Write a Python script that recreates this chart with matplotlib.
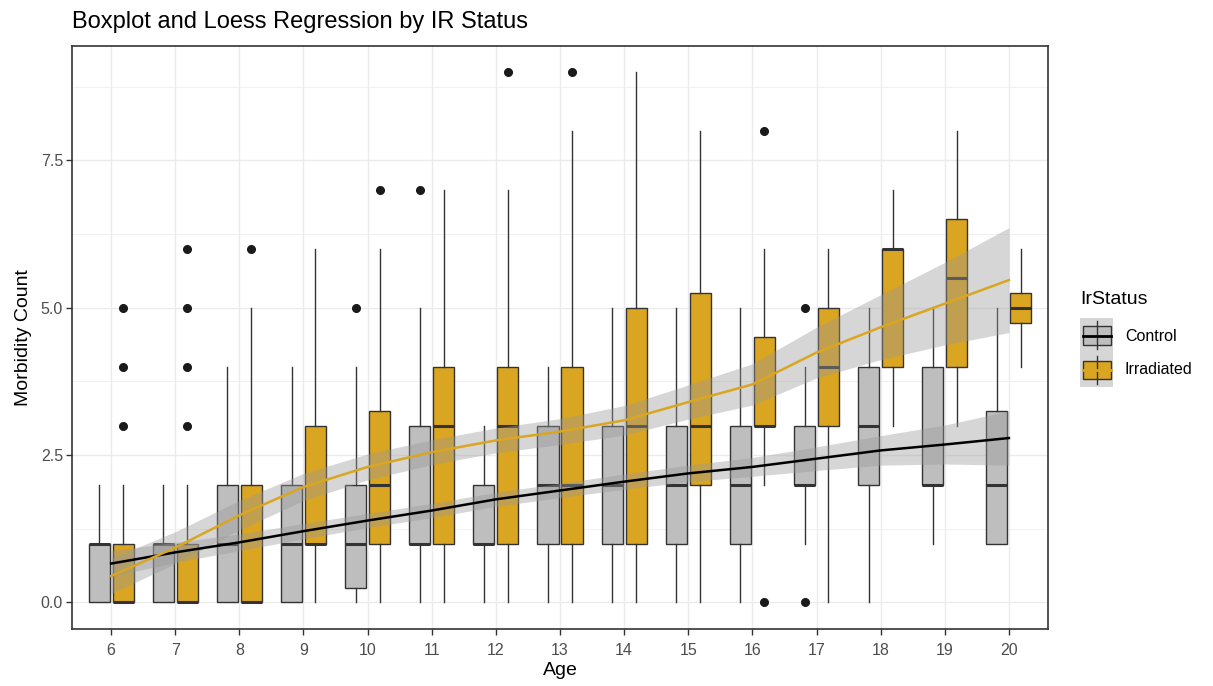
#!/usr/bin/env python3
"""
Boxplot dan regresi loess per status iradiasi
"""

import numpy as np
import matplotlib
matplotlib.use('Agg')
import matplotlib.pyplot as plt

plt.rcParams['font.family'] = ['Liberation Sans', 'DejaVu Sans']

ages = list(range(6, 21))

# Control: kuartil, median, ujung whisker, outlier
ctrl_q1 = [0, 0, 0, 0, 0.25, 1, 1, 1, 1, 1, 1, 2, 2, 2, 1]
ctrl_med = [1, 1, 1, 1, 1, 1, 1, 2, 2, 2, 2, 2, 3, 2, 2]
ctrl_q3 = [1, 1, 2, 2, 2, 3, 2, 3, 3, 3, 3, 3, 4, 4, 3.25]
ctrl_lo = [0, 0, 0, 0, 0, 0, 0, 0, 0, 0, 0, 1, 0, 1, 1]
ctrl_hi = [2, 2, 4, 4, 4, 5, 3, 4, 5, 5, 5, 4, 5, 5, 5]
ctrl_out = {10: [5], 11: [7], 17: [0, 5]}

# Irradiated
irr_q1 = [0, 0, 0, 1, 1, 1, 1, 1, 1, 2, 3, 3, 4, 4, 4.75]
irr_med = [0, 0, 0, 1, 2, 3, 3, 2, 3, 3, 3, 4, 6, 5.5, 5]
irr_q3 = [1, 1, 2, 3, 3.25, 4, 4, 4, 5, 5.25, 4.5, 5, 6, 6.5, 5.25]
irr_lo = [0, 0, 0, 0, 0, 0, 0, 0, 0, 0, 2, 0, 3, 3, 4]
irr_hi = [2, 2, 5, 6, 6, 7, 7, 8, 9, 8, 6, 6, 7, 8, 6]
irr_out = {6: [3, 4, 5], 7: [3, 4, 5, 6], 8: [6], 10: [7], 12: [9], 13: [9], 16: [0, 8]}

# Kurva loess dan setengah lebar pita kepercayaan
ctrl_fit = [0.66, 0.85, 1.02, 1.21, 1.39, 1.56, 1.75, 1.90, 2.05, 2.19, 2.30, 2.44, 2.58, 2.68, 2.79]
ctrl_ci = [0.22, 0.17, 0.14, 0.13, 0.12, 0.12, 0.12, 0.12, 0.13, 0.14, 0.16, 0.20, 0.25, 0.33, 0.46]
irr_fit = [0.45, 0.93, 1.48, 1.96, 2.30, 2.55, 2.75, 2.90, 3.09, 3.40, 3.70, 4.24, 4.67, 5.07, 5.47]
irr_ci = [0.30, 0.27, 0.25, 0.23, 0.22, 0.21, 0.21, 0.22, 0.25, 0.29, 0.35, 0.43, 0.55, 0.70, 0.89]

GRAY = '#BEBEBE'
GOLD = '#DAA520'
EDGE = '#333333'


def build_stats(q1, med, q3, lo, hi, out):
    stats = []
    for i, a in enumerate(ages):
        stats.append({'q1': q1[i], 'med': med[i], 'q3': q3[i],
                      'whislo': lo[i], 'whishi': hi[i],
                      'fliers': out.get(a, [])})
    return stats


def draw_boxes(ax, stats, positions, color):
    ax.bxp(stats, positions=positions, widths=0.33, patch_artist=True,
           showcaps=False, manage_ticks=False,
           boxprops=dict(facecolor=color, edgecolor=EDGE, linewidth=1.0),
           medianprops=dict(color=EDGE, linewidth=2.2),
           whiskerprops=dict(color=EDGE, linewidth=1.0),
           flierprops=dict(marker='o', markerfacecolor='#1A1A1A',
                           markeredgecolor='#1A1A1A', markersize=5.5))


fig = plt.figure(figsize=(12.13, 6.86), dpi=100)
ax = fig.add_axes([72 / 1213, 57 / 686, 976 / 1213, 583.5 / 686])

x = np.array(ages, dtype=float)
draw_boxes(ax, build_stats(ctrl_q1, ctrl_med, ctrl_q3, ctrl_lo, ctrl_hi, ctrl_out), x - 0.187, GRAY)
draw_boxes(ax, build_stats(irr_q1, irr_med, irr_q3, irr_lo, irr_hi, irr_out), x + 0.187, GOLD)

for fit, ci, col in [(ctrl_fit, ctrl_ci, 'black'), (irr_fit, irr_ci, GOLD)]:
    fit = np.array(fit)
    ci = np.array(ci)
    ax.fill_between(x, fit - ci, fit + ci, color='#999999', alpha=0.4, linewidth=0, zorder=3)
    ax.plot(x, fit, color=col, linewidth=1.8, zorder=4)

ax.set_xlim(5.39, 20.61)
ax.set_ylim(-0.45, 9.45)
ax.set_xticks(ages)
ax.set_xticklabels([str(a) for a in ages])
ax.set_yticks([0, 2.5, 5, 7.5])
ax.set_yticklabels(['0.0', '2.5', '5.0', '7.5'])
ax.set_yticks([1.25, 3.75, 6.25, 8.75], minor=True)
ax.grid(which='major', color='#EBEBEB', linewidth=1.0, zorder=0)
ax.grid(which='minor', axis='y', color='#EBEBEB', linewidth=0.5, zorder=0)
ax.set_axisbelow(True)
ax.tick_params(axis='both', which='major', length=4, width=1.0, color=EDGE,
               labelcolor='#4D4D4D', labelsize=11.5, pad=2.5)
ax.tick_params(axis='x', which='major', pad=6)
ax.tick_params(axis='y', which='minor', length=0)
for s in ax.spines.values():
    s.set_color(EDGE)
    s.set_linewidth(1.2)

ax.set_xlabel('Age', fontsize=14, labelpad=3)
ax.set_ylabel('Morbidity Count', fontsize=14, labelpad=6)
fig.text(72 / 1213, 1 - 22 / 686, 'Boxplot and Loess Regression by IR Status',
         fontsize=17, ha='left', va='center')

# Legenda manual
fig.text(1080 / 1213, 1 - 300 / 686, 'IrStatus', fontsize=14, ha='left', va='center')
lax = fig.add_axes([1080 / 1213, 1 - 387 / 686, 33 / 1213, 69 / 686])
lax.set_xlim(0, 1)
lax.set_ylim(0, 2)
lax.axis('off')
lax.add_patch(plt.Rectangle((0, 0), 1, 2, facecolor='#D6D6D6', edgecolor='none'))
for y0, col, line_col in [(1, GRAY, 'black'), (0, GOLD, GOLD)]:
    lax.plot([0.5, 0.5], [y0 + 0.1, y0 + 0.9], color=EDGE, linewidth=1.0)
    lax.add_patch(plt.Rectangle((0.09, y0 + 0.22), 0.85, 0.54, facecolor=col,
                                edgecolor=EDGE, linewidth=1.0))
    lax.plot([0.09, 0.94], [y0 + 0.49, y0 + 0.49], color=line_col, linewidth=2.0)
fig.text(1125 / 1213, 1 - 337 / 686, 'Control', fontsize=11.5, ha='left', va='center')
fig.text(1125 / 1213, 1 - 370 / 686, 'Irradiated', fontsize=11.5, ha='left', va='center')

fig.savefig('out.png', dpi=100)
